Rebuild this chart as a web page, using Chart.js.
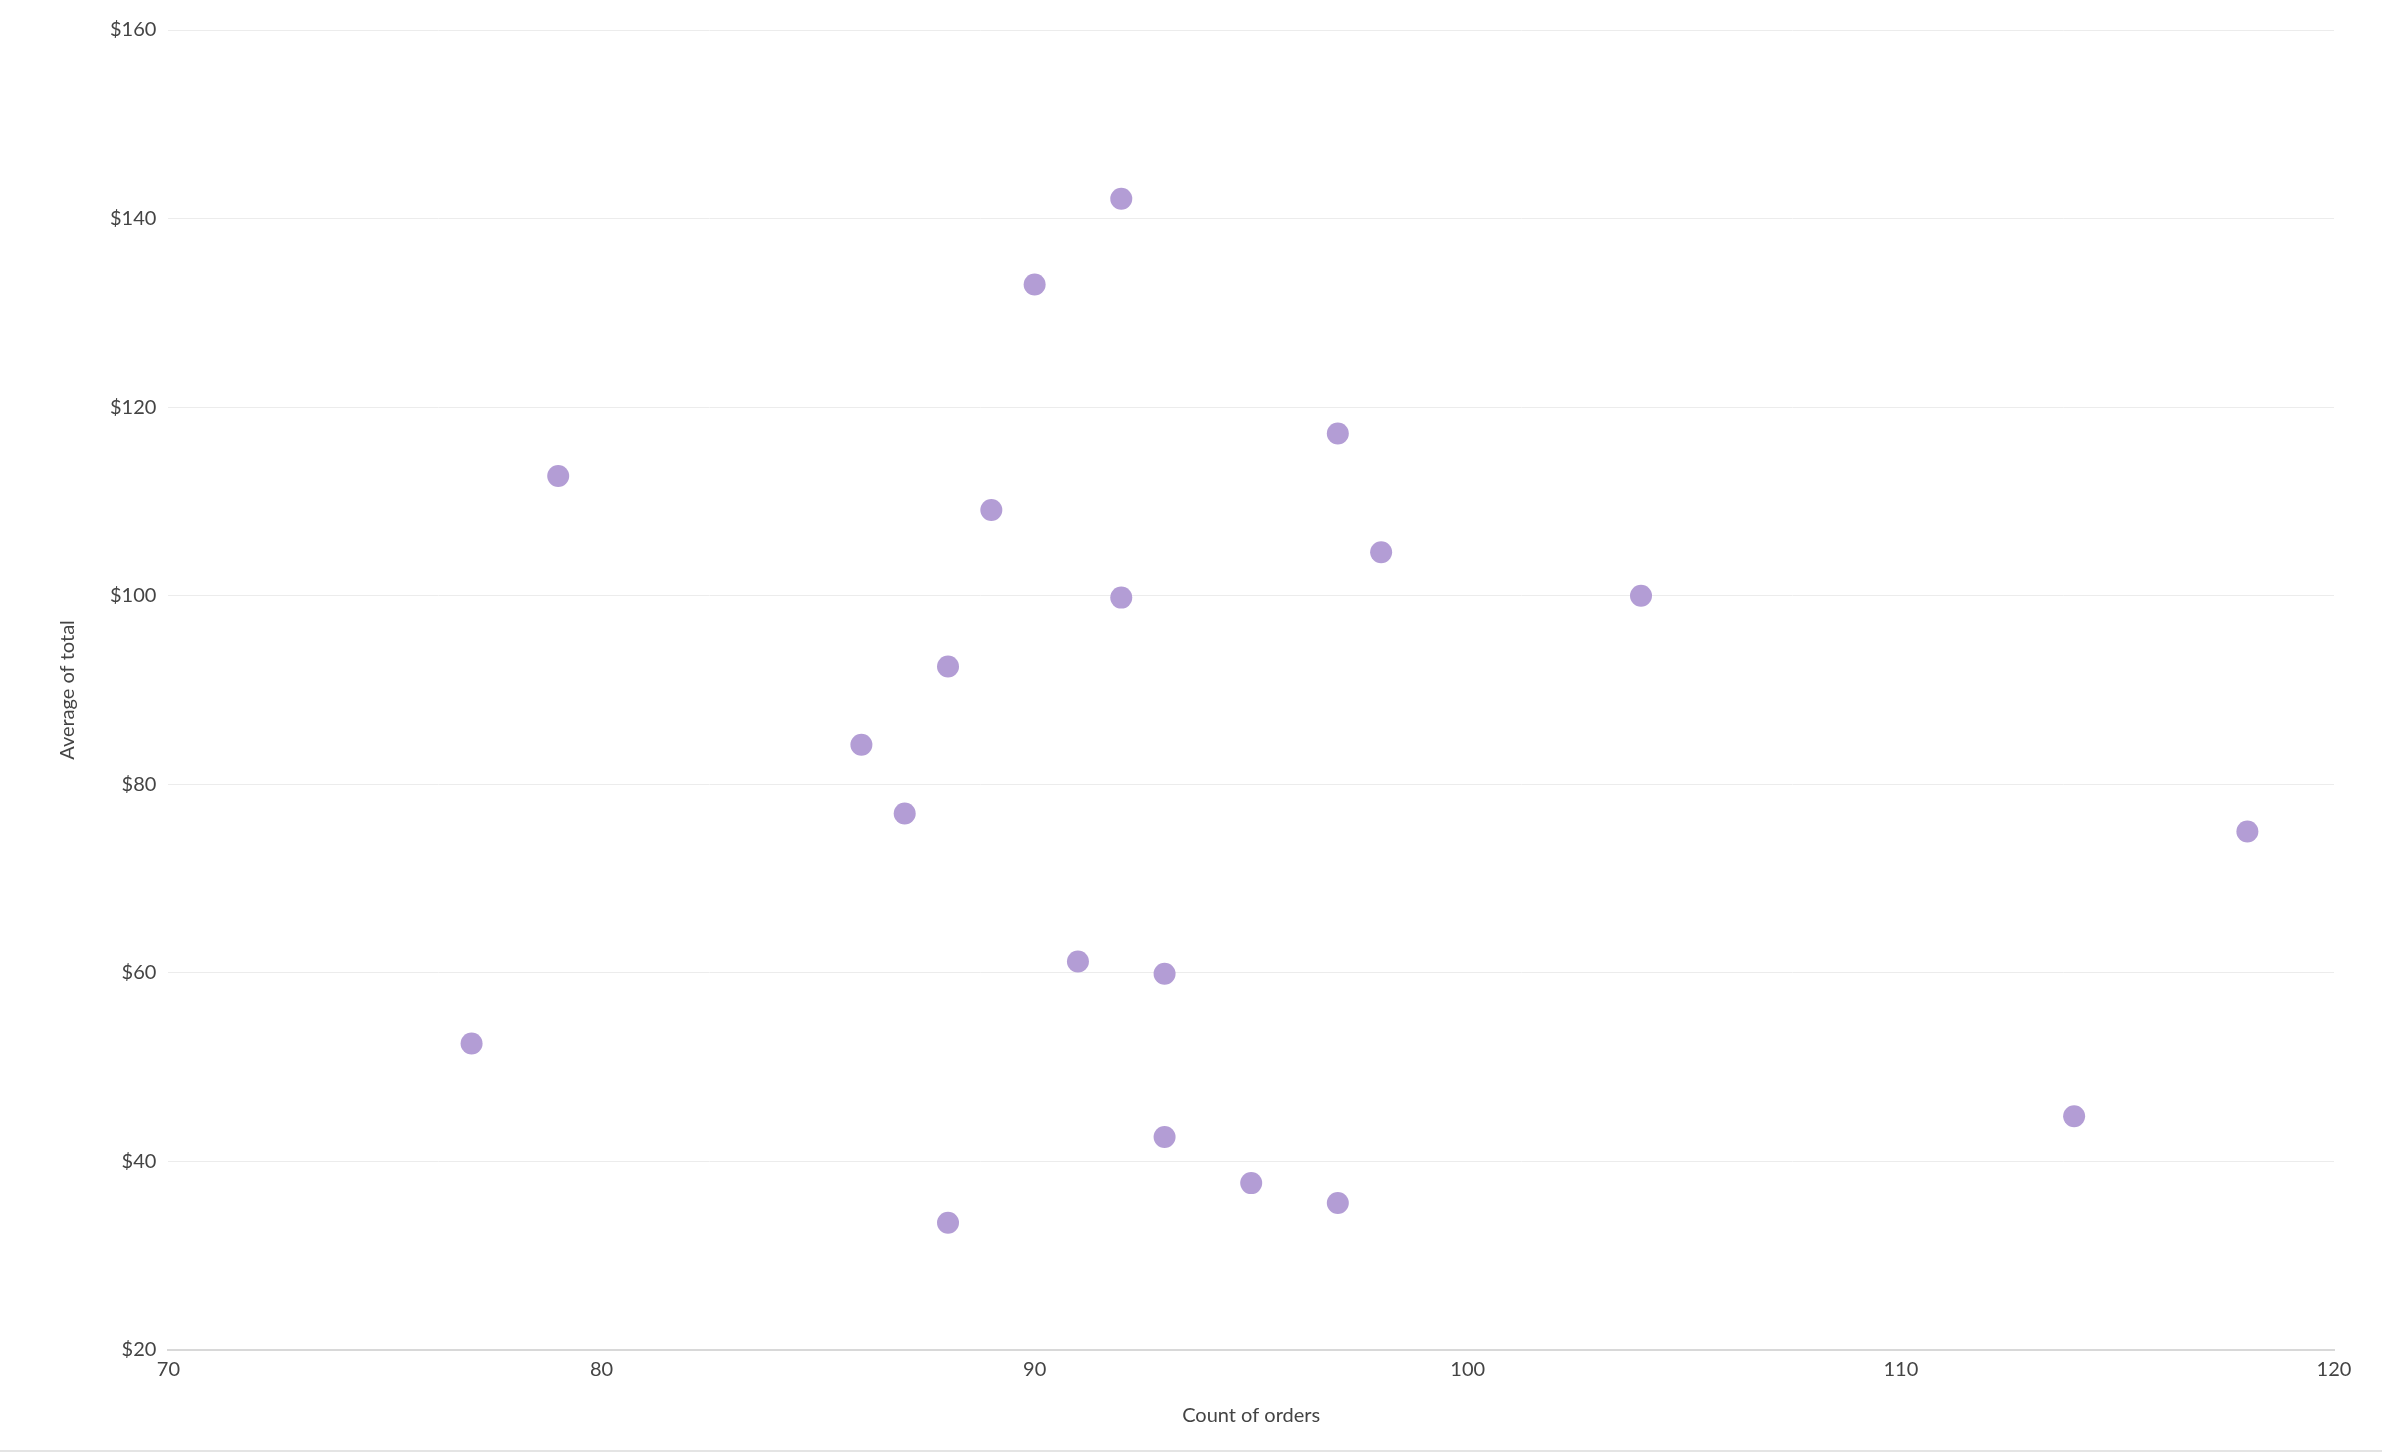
<!DOCTYPE html>
<html><head><meta charset="utf-8">
<script src="https://cdn.jsdelivr.net/npm/chart.js@4"></script>
<style>html,body{margin:0;padding:0;background:#fff;}#wrap{width:2382px;height:1450px;border-bottom:2px solid #e4e4e4;}</style>
</head><body><div id="wrap"><canvas id="c" width="2382" height="1450"></canvas></div>
<script>
const orderCounts = [92,90,97,79,89,98,92,104,88,86,87,118,91,93,77,114,93,95,97,88];
const avgTotals = [142.1,133,117.2,112.7,109.1,104.6,99.8,100,92.5,84.2,76.9,75,61.2,59.9,52.5,44.8,42.6,37.7,35.6,33.5];
const xTicks = [70,80,90,100,110,120];
const yTicks = [20,40,60,80,100,120,140,160];
const points = orderCounts.map((x,i)=>({x, y: avgTotals[i]}));
new Chart(document.getElementById('c'), {
  type: 'scatter',
  data: { datasets: [{ data: points, backgroundColor: 'rgb(179,157,213)', borderWidth: 0, pointRadius: 11, pointHoverRadius: 11 }] },
  options: {
    responsive: false, devicePixelRatio: 1, animation: false,
    layout: { padding: { left: 52, right: 48, top: 30, bottom: 18 } },
    plugins: { legend: { display: false }, tooltip: { enabled: false } },
    scales: {
      x: { type: 'linear', min: 70, max: 120,
        afterBuildTicks: a => { a.ticks = xTicks.map(v=>({value:v})); },
        grid: { display: false, drawTicks: false }, border: { display: true, color: '#d8d8d8', width: 2 },
        ticks: { color: '#444', font: { family: 'Lato', size: 20 }, padding: 8 },
        title: { display: true, text: 'Count of orders', color: '#444', font: { family: 'Lato', size: 20 }, padding: { top: 14 } } },
      y: { min: 20, max: 160,
        afterBuildTicks: a => { a.ticks = yTicks.map(v=>({value:v})); },
        grid: { color: '#ececec', drawTicks: false }, border: { display: false },
        ticks: { color: '#444', font: { family: 'Lato', size: 20 }, padding: 12, callback: v => '$' + v },
        title: { display: true, text: 'Average of total', color: '#444', font: { family: 'Lato', size: 20 }, padding: { bottom: 18 } } }
    }
  }
});
</script></body></html>
